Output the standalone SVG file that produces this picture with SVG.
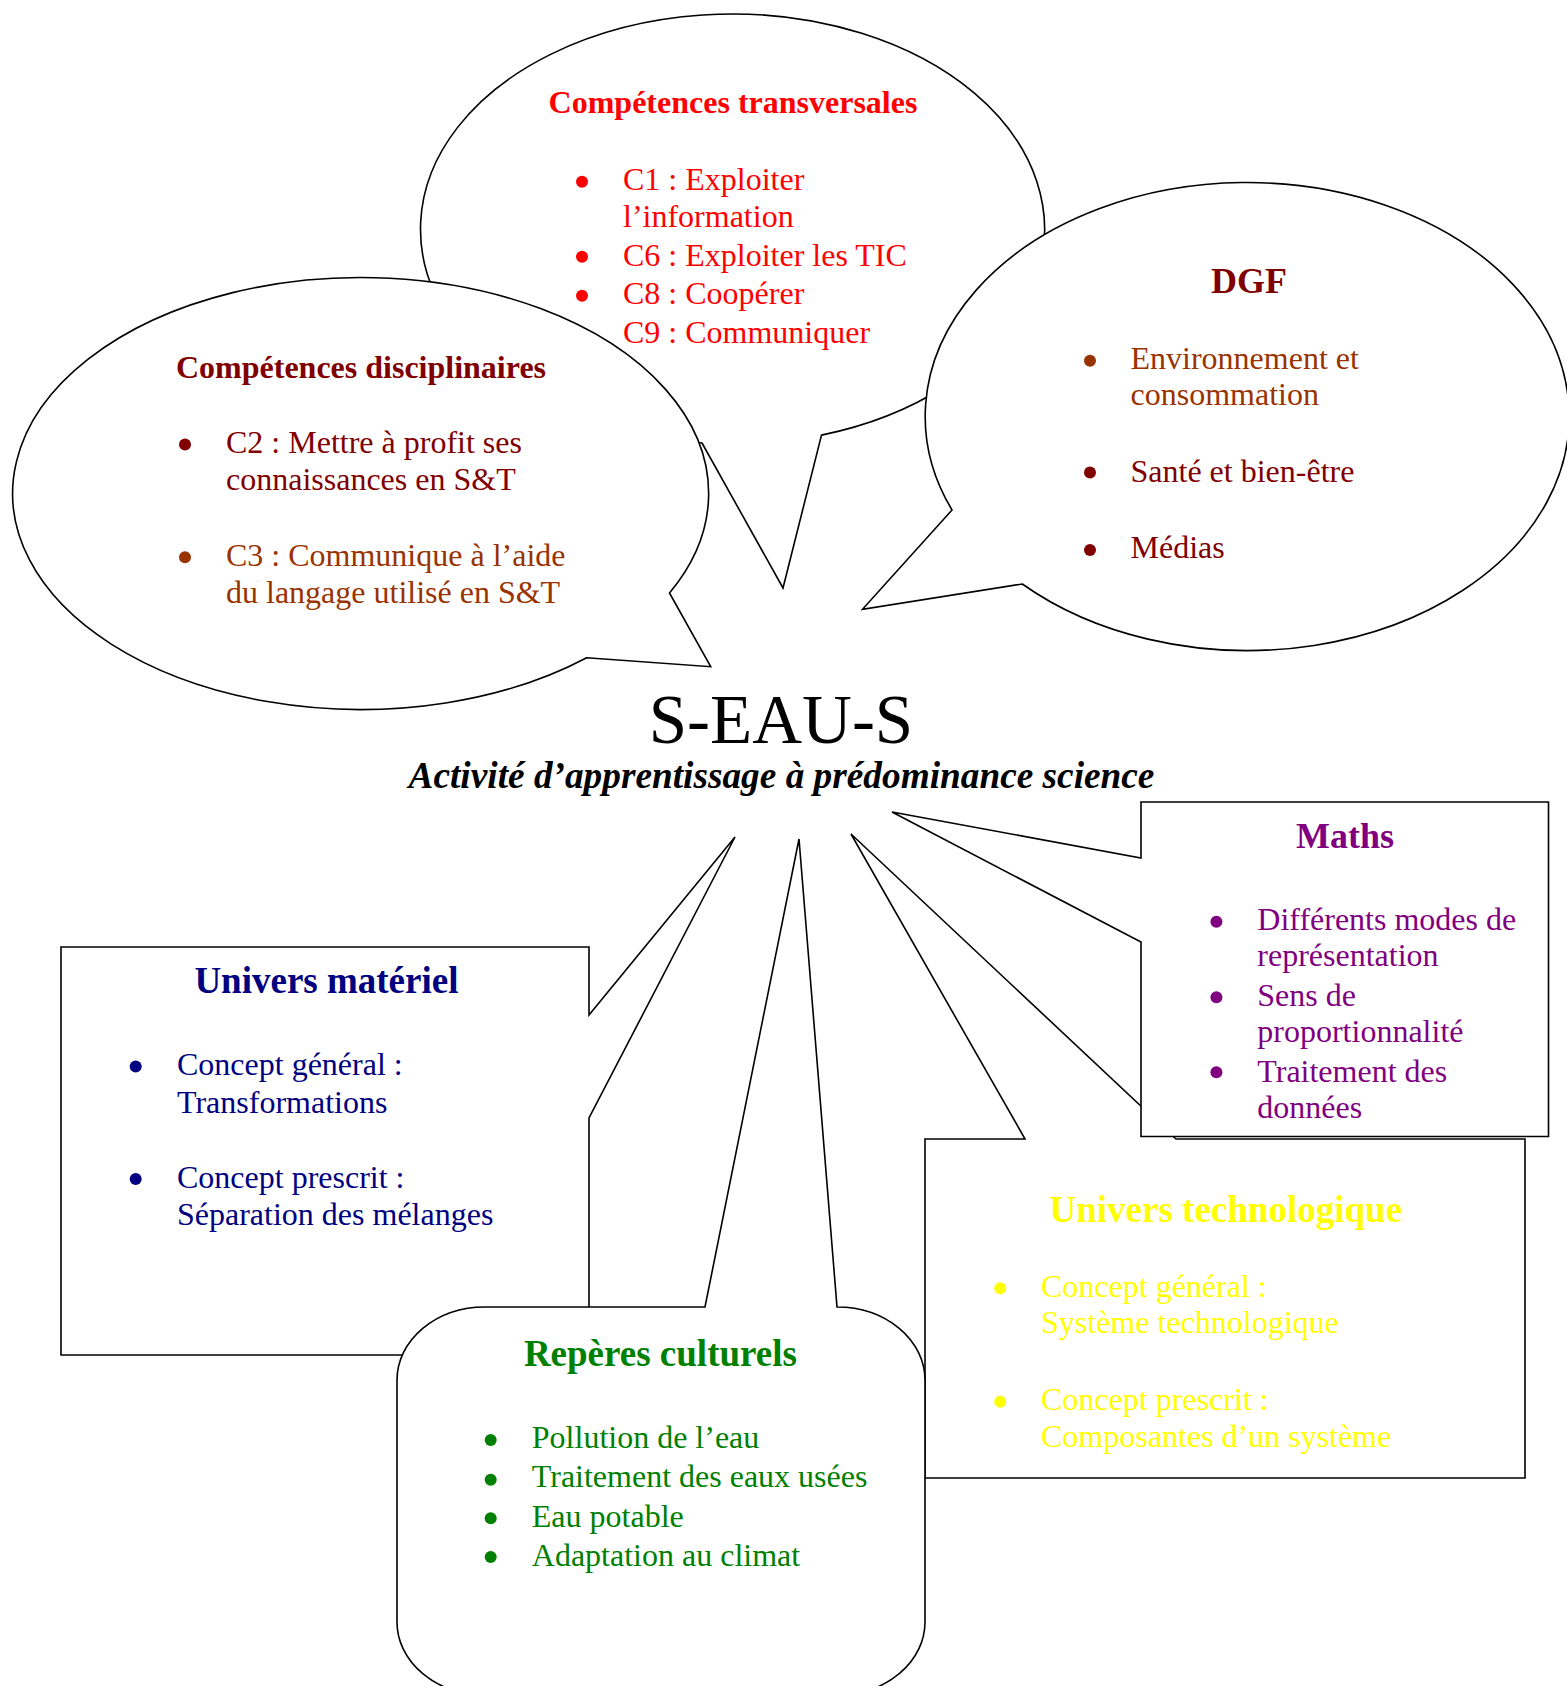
<svg xmlns="http://www.w3.org/2000/svg" width="1567" height="1686" viewBox="0 0 1567 1686">
<style>
.shape{fill:#fff;stroke:#000;stroke-width:1.6;stroke-linejoin:miter}
text{font-family:"Liberation Serif","Times New Roman",serif;font-size:32px}
.t{font-weight:bold}
.big{font-size:37px;font-weight:bold}
.mid{text-anchor:middle}
.red{fill:#ff0000}.dred{fill:#800000}.brown{fill:#993300}.purple{fill:#800080}.navy{fill:#000080}.green{fill:#008000}.yellow{fill:#ffff00}
</style>
<rect width="1567" height="1686" fill="#fff"/>

<g id="node-transversales">
<path class="shape" d="M702 443 L783 588 L821.5 435.1 A312 215 0 1 0 702 443 Z"/>
</g>
<g id="node-disciplinaires">
<path class="shape" d="M669.5 593 L710.7 666.7 L586.7 657.7 A348 216 0 1 1 669.5 593 Z"/>
<text class="t mid dred" x="361" y="378.3">Compétences disciplinaires</text>
<circle class="dred" cx="185" cy="444.5" r="6"/>
<text class="dred" x="226" y="453.3">C2 : Mettre à profit ses</text>
<text class="dred" x="226" y="490">connaissances en S&amp;T</text>
<circle class="brown" cx="185" cy="557.3" r="6"/>
<text class="brown" x="226" y="566">C3 : Communique à l’aide</text>
<text class="brown" x="226" y="602.7">du langage utilisé en S&amp;T</text>
</g>
<g id="node-transversales-label">
<text class="t mid red" x="733" y="113">Compétences transversales</text>
<circle class="red" cx="582" cy="181.7" r="6"/>
<circle class="red" cx="582" cy="256.8" r="6"/>
<circle class="red" cx="582" cy="295.7" r="6"/>
<text class="red" x="623" y="190">C1 : Exploiter</text>
<text class="red" x="623" y="227">l’information</text>
<text class="red" x="623" y="265.5">C6 : Exploiter les TIC</text>
<text class="red" x="623" y="304">C8 : Coopérer</text>
<text class="red" x="623" y="343">C9 : Communiquer</text>
</g>
<g id="node-dgf">
<path class="shape" d="M952 510 L862.5 609.3 L1022.3 584 A322 234 0 1 0 952 510 Z"/>
<text class="big mid dred" x="1249" y="292.7" style="font-size:36px">DGF</text>
<circle class="brown" cx="1090" cy="360.7" r="6"/>
<text class="brown" x="1130.5" y="369.3">Environnement et</text>
<text class="brown" x="1130.5" y="405">consommation</text>
<circle class="dred" cx="1090" cy="472.5" r="6"/>
<text class="dred" x="1130.5" y="481.7">Santé et bien-être</text>
<circle class="dred" cx="1090" cy="550" r="6"/>
<text class="dred" x="1130.5" y="558.3">Médias</text>
</g>

<g id="node-center">
<text class="mid" x="781" y="742.5" style="font-size:69px">S-EAU-S</text>
<text class="mid" x="781.5" y="787.5" style="font-size:37.3px;font-weight:bold;font-style:italic">Activité d’apprentissage à prédominance science</text>
</g>

<g id="node-univers-materiel">
<path class="shape" d="M61 947 H589 V1015 L735 837 L589 1118 V1355 H61 Z"/>
<text class="big mid navy" x="326.4" y="993">Univers matériel</text>
<circle class="navy" cx="135.7" cy="1066.4" r="6"/>
<text class="navy" x="177" y="1075.4">Concept général :</text>
<text class="navy" x="177" y="1112.9">Transformations</text>
<circle class="navy" cx="135.7" cy="1179" r="6"/>
<text class="navy" x="177" y="1187.9">Concept prescrit :</text>
<text class="navy" x="177" y="1225.4">Séparation des mélanges</text>
</g>

<g id="node-univers-technologique">
<path class="shape" d="M925 1139 H1025 L851 834 L1176 1139 H1525 V1478 H925 Z"/>
<text class="big mid yellow" x="1225.8" y="1221.7">Univers technologique</text>
<circle class="yellow" cx="1000.2" cy="1288.3" r="6"/>
<text class="yellow" x="1041" y="1296.7">Concept général :</text>
<text class="yellow" x="1041" y="1333.3">Système technologique</text>
<circle class="yellow" cx="1000.2" cy="1401.7" r="6"/>
<text class="yellow" x="1041" y="1410">Concept prescrit :</text>
<text class="yellow" x="1041" y="1446.7">Composantes d’un système</text>
</g>

<g id="node-maths">
<path class="shape" d="M1141 802 H1548.5 V1136.5 H1141 V942 L892 812 L1141 858 Z"/>
<text class="big mid purple" x="1345" y="847.7" style="font-size:36px">Maths</text>
<circle class="purple" cx="1216.4" cy="921.7" r="6"/>
<text class="purple" x="1257.3" y="930">Différents modes de</text>
<text class="purple" x="1257.3" y="966">représentation</text>
<circle class="purple" cx="1216.4" cy="997.3" r="6"/>
<text class="purple" x="1257.3" y="1006">Sens de</text>
<text class="purple" x="1257.3" y="1041.7">proportionnalité</text>
<circle class="purple" cx="1216.4" cy="1072.3" r="6"/>
<text class="purple" x="1257.3" y="1081.7">Traitement des</text>
<text class="purple" x="1257.3" y="1117.7">données</text>
</g>

<g id="node-reperes">
<path class="shape" d="M485 1307 H705 L799 839 L837 1307 A88 73 0 0 1 925 1380 V1622 A88 73 0 0 1 837 1695 H485 A88 73 0 0 1 397 1622 V1380 A88 73 0 0 1 485 1307 Z"/>
<text class="big mid green" x="660.4" y="1366">Repères culturels</text>
<circle class="green" cx="490.7" cy="1440" r="6"/>
<circle class="green" cx="490.7" cy="1479.7" r="6"/>
<circle class="green" cx="490.7" cy="1518.3" r="6"/>
<circle class="green" cx="490.7" cy="1557" r="6"/>
<text class="green" x="531.8" y="1448.3">Pollution de l’eau</text>
<text class="green" x="531.8" y="1487.3">Traitement des eaux usées</text>
<text class="green" x="531.8" y="1526.7">Eau potable</text>
<text class="green" x="531.8" y="1566">Adaptation au climat</text>
</g>
</svg>
